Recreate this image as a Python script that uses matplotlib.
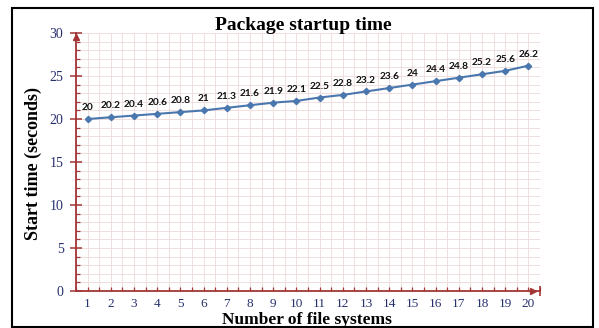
import matplotlib
matplotlib.use("Agg")
import matplotlib.pyplot as plt
from matplotlib.ticker import MultipleLocator
from matplotlib.patches import Rectangle

file_systems = list(range(1, 21))
start_times = [20, 20.2, 20.4, 20.6, 20.8, 21, 21.3, 21.6, 21.9, 22.1,
               22.5, 22.8, 23.2, 23.6, 24, 24.4, 24.8, 25.2, 25.6, 26.2]
point_labels = ["20", "20.2", "20.4", "20.6", "20.8", "21", "21.3", "21.6", "21.9", "22.1",
                "22.5", "22.8", "23.2", "23.6", "24", "24.4", "24.8", "25.2", "25.6", "26.2"]

W, H = 599, 328
fig = plt.figure(figsize=(W / 100, H / 100), dpi=100)
ax = fig.add_axes([76 / W, 1 - 291 / H, (540 - 76) / W, (291 - 33) / H])

spine_c = "#a33535"
tick_c = "#27306e"
grid_c = "#f0dede"
line_c = "#4a77ad"

ax.plot(file_systems, start_times, color=line_c, lw=1.5, marker="D", ms=3.2,
        mfc=line_c, mec=line_c, zorder=3)
for x, y, t in zip(file_systems, start_times, point_labels):
    ax.annotate(t, (x, y), xytext=(0, 5), textcoords="offset points",
                ha="center", va="bottom", fontsize=7.3, fontweight="bold",
                family="Lato", color="#111111")

ax.set_xlim(0.5, 20.5)
ax.set_ylim(0, 30)
ax.xaxis.set_major_locator(MultipleLocator(1))
ax.xaxis.set_minor_locator(MultipleLocator(0.5))
ax.yaxis.set_major_locator(MultipleLocator(5))
ax.yaxis.set_minor_locator(MultipleLocator(1))
ax.grid(which="both", color=grid_c, lw=0.7)
ax.set_axisbelow(True)

for s in ["top", "right"]:
    ax.spines[s].set_visible(False)
for s in ["left", "bottom"]:
    ax.spines[s].set_color(spine_c)
    ax.spines[s].set_linewidth(1.3)

ax.tick_params(axis="y", which="major", direction="inout", length=8, width=1.1,
               color=spine_c, labelcolor=tick_c, labelsize=10, pad=5)
ax.tick_params(axis="y", which="minor", direction="in", length=3, width=0.9, color=spine_c)
ax.tick_params(axis="x", which="major", direction="in", length=3, width=0.9,
               color=spine_c, labelcolor=tick_c, labelsize=9.5, pad=5)
ax.tick_params(axis="x", which="minor", direction="in", length=3, width=0.9, color=spine_c)
for lbl in ax.get_xticklabels() + ax.get_yticklabels():
    lbl.set_family("Liberation Serif")

# arrow heads on axes
ax.plot([0], [0.985], marker="^", ms=5, color=spine_c, transform=ax.transAxes, clip_on=False)
ax.plot([0.985], [0], marker=">", ms=5, color=spine_c, transform=ax.transAxes, clip_on=False)
ax.plot([1.0], [0], marker="|", ms=7, mew=1.2, color=spine_c, transform=ax.transAxes, clip_on=False)

fig.text(303 / W, 1 - 25 / H, "Package startup time", ha="center", va="center",
         family="Liberation Serif", fontweight="bold", fontsize=14)
fig.text(307 / W, 1 - 324 / H, "Number of file systems", ha="center", va="baseline",
         family="Liberation Serif", fontweight="bold", fontsize=12.5)
fig.text(33 / W, 1 - 163 / H, "Start time (seconds)", ha="center", va="center",
         rotation=90, family="Liberation Serif", fontweight="bold", fontsize=13)

fig.patches.append(Rectangle((12 / W, 1 - 327 / H), (593 - 12) / W, (327 - 8) / H,
                             transform=fig.transFigure, fill=False, ec="black", lw=1.5))

fig.savefig("out.png", dpi=100)
